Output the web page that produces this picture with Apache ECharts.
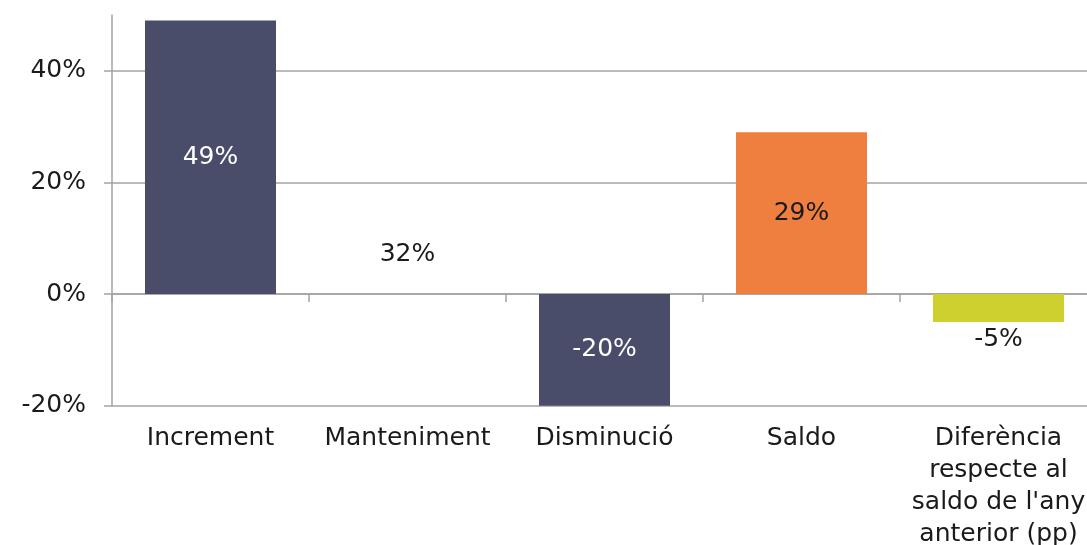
<!DOCTYPE html>
<html>
<head>
<meta charset="utf-8">
<script src="https://cdn.jsdelivr.net/npm/echarts@6/dist/echarts.min.js"></script>
<style>
  html, body { margin: 0; padding: 0; background: #ffffff; }
  #chart { width: 1087px; height: 545px; }
</style>
</head>
<body>
<div id="chart"></div>
<script>
// ---- data ----
var categories = ['Increment', 'Manteniment', 'Disminució', 'Saldo', "Diferència\nrespecte al\nsaldo de l'any\nanterior (pp)"];
var values = [49, 32, -20, 29, -5];
var yTicks = [-20, 0, 20, 40];

// ---- styles ----
var FONT = 'DejaVu Sans';
var TEXT = '#1a1a1a';
var GRID = '#a3a3a3';
var barColors = ['#4a4d6a', 'transparent', '#4a4d6a', '#ef7f3f', '#cdd02e'];
var labelStyles = [
  { position: 'inside', color: '#ffffff' },
  { position: ['50%', '77.8%'], align: 'center', verticalAlign: 'middle', color: TEXT },
  { position: 'inside', color: '#ffffff' },
  { position: 'inside', color: TEXT },
  { position: 'bottom', distance: 5, color: TEXT }
];

var seriesData = values.map(function (v, i) {
  return {
    value: v,
    itemStyle: { color: barColors[i] },
    label: Object.assign({ show: true, formatter: '{c}%', fontFamily: FONT, fontSize: 25 }, labelStyles[i])
  };
});

var chart = echarts.init(document.getElementById('chart'), null, { renderer: 'canvas' });
chart.setOption({
  animation: false,
  backgroundColor: '#ffffff',
  grid: { left: 112, top: 15, right: -10, bottom: 139.3, containLabel: false, outerBoundsMode: 'none' },
  xAxis: [
    {
      type: 'category',
      data: categories,
      position: 'bottom',
      axisLine: { show: false, onZero: false },
      axisTick: { show: false },
      splitLine: { show: false },
      axisLabel: {
        interval: 0,
        hideOverlap: false,
        margin: 17,
        fontFamily: FONT,
        fontSize: 25,
        lineHeight: 32,
        color: TEXT
      }
    },
    {
      type: 'category',
      data: categories,
      position: 'top',
      axisLine: { show: true, onZero: true, lineStyle: { color: GRID, width: 1.5 } },
      axisTick: { show: true, inside: true, length: 8, lineStyle: { color: GRID, width: 1.5 } },
      axisLabel: { show: false },
      splitLine: { show: false }
    }
  ],
  yAxis: {
    type: 'value',
    min: -20,
    max: 50,
    interval: 20,
    axisLine: { show: true, lineStyle: { color: GRID, width: 1.5 } },
    axisTick: { show: true, length: 8, customValues: yTicks, lineStyle: { color: GRID, width: 1.5 } },
    splitLine: { show: true, lineStyle: { color: GRID, width: 1.5 } },
    axisLabel: {
      customValues: yTicks,
      margin: 26,
      fontFamily: FONT,
      fontSize: 25,
      color: TEXT,
      formatter: '{value}%'
    }
  },
  series: [
    {
      type: 'bar',
      xAxisIndex: 0,
      yAxisIndex: 0,
      barWidth: '66.5%',
      data: seriesData,
      emphasis: { disabled: true },
      silent: true
    }
  ]
});
</script>
</body>
</html>
